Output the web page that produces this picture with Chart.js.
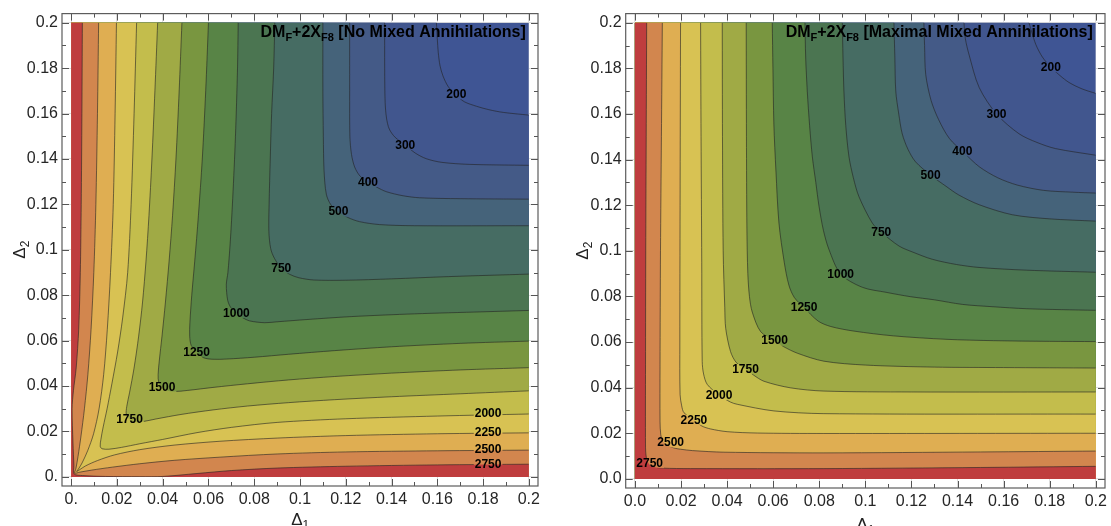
<!DOCTYPE html>
<html>
<head>
<meta charset="utf-8">
<script src="https://cdn.jsdelivr.net/npm/chart.js@4.4.1/dist/chart.umd.min.js"></script>
<style>
  body { margin: 0; background: #fff; }
  canvas { position: absolute; top: 0; }
</style>
</head>
<body>
<canvas id="noMix" width="555" height="526" style="left:0"></canvas>
<canvas id="maxMix" width="556" height="526" style="left:555px"></canvas>
<script>
// contour levels, lowest first, and the fill colour of each band (band 0 = below 200)
const levels = [200, 300, 400, 500, 750, 1000, 1250, 1500, 1750, 2000, 2250, 2500, 2750];
const bandColors = ["#3f5594", "#41568e", "#445a87", "#45637a", "#466c63", "#4b7551", "#588446",
  "#799640", "#a0aa45", "#c3bd4c", "#d8c253", "#dfae52", "#d2864e", "#bf3d3e"];

const tickValues = [0, 0.02, 0.04, 0.06, 0.08, 0.1, 0.12, 0.14, 0.16, 0.18, 0.2];
const noMixTickLabels = ["0.", "0.02", "0.04", "0.06", "0.08", "0.1", "0.12", "0.14", "0.16", "0.18", "0.2"];
const maxMixTickLabels = ["0.0", "0.02", "0.04", "0.06", "0.08", "0.1", "0.12", "0.14", "0.16", "0.18", "0.2"];

// left panel: no mixed annihilations, contour lines as [Δ1, Δ2]
const noMix200 = [[0.1596,0.2],[0.16,0.193],[0.1604,0.187],[0.1612,0.181],[0.1625,0.1765],[0.1648,0.1718],[0.168,0.1683],[0.1718,0.1652],[0.1771,0.1632],[0.1825,0.1617],[0.1888,0.1605],[0.2,0.1593]];
const noMix300 = [[0.137,0.2],[0.137,0.18],[0.1372,0.165],[0.1378,0.158],[0.139,0.1532],[0.1415,0.1496],[0.146,0.1461],[0.1505,0.1425],[0.1552,0.1401],[0.162,0.1385],[0.1742,0.1376],[0.2,0.1372]];
const noMix400 = [[0.1217,0.2],[0.1217,0.17],[0.1218,0.15],[0.1225,0.142],[0.1239,0.1364],[0.1262,0.1325],[0.1297,0.1298],[0.1335,0.1276],[0.1377,0.1256],[0.145,0.1238],[0.1523,0.1229],[0.17,0.1225],[0.2,0.1223]];
const noMix500 = [[0.11,0.2],[0.11,0.17],[0.1102,0.15],[0.1105,0.135],[0.1115,0.1245],[0.1135,0.1198],[0.1168,0.1168],[0.121,0.1142],[0.126,0.1124],[0.1348,0.1111],[0.15,0.1106],[0.2,0.1106]];
const noMix750 = [[0.089,0.2],[0.0885,0.18],[0.0876,0.16],[0.087,0.14],[0.0865,0.12],[0.0864,0.108],[0.0872,0.1005],[0.0888,0.0963],[0.0918,0.0919],[0.0955,0.0892],[0.0995,0.0877],[0.106,0.0867],[0.12,0.0866],[0.14,0.0872],[0.165,0.0882],[0.2,0.0893]];
const noMix1000 = [[0.073,0.2],[0.0727,0.18],[0.0718,0.15],[0.0706,0.1226],[0.0695,0.103],[0.0685,0.09],[0.0678,0.0846],[0.0684,0.0778],[0.0698,0.0745],[0.0722,0.0722],[0.0748,0.0702],[0.078,0.0687],[0.0846,0.0679],[0.09,0.0683],[0.103,0.0693],[0.1226,0.0706],[0.15,0.0718],[0.18,0.0727],[0.2,0.0733]];
const noMix1250 = [[0.06,0.2],[0.0588,0.17],[0.0573,0.14],[0.0556,0.115],[0.054,0.095],[0.0527,0.08],[0.0519,0.068],[0.0518,0.062],[0.0525,0.0578],[0.055,0.0551],[0.0578,0.0525],[0.062,0.0518],[0.068,0.0519],[0.08,0.0527],[0.095,0.054],[0.115,0.0556],[0.14,0.0573],[0.17,0.0588],[0.2,0.0598]];
const noMix1500 = [[0.0484,0.2],[0.0472,0.17],[0.0458,0.14],[0.0443,0.115],[0.0428,0.095],[0.0412,0.077],[0.0397,0.062],[0.0385,0.051],[0.038,0.045],[0.0383,0.0415],[0.0397,0.0395],[0.0415,0.0382],[0.045,0.0376],[0.051,0.0381],[0.062,0.0394],[0.077,0.041],[0.095,0.0427],[0.115,0.0442],[0.14,0.0457],[0.17,0.0471],[0.2,0.0481]];
const noMix1750 = [[0.0378,0.2],[0.0366,0.17],[0.0353,0.14],[0.034,0.115],[0.0327,0.095],[0.0312,0.077],[0.0295,0.062],[0.0275,0.048],[0.0255,0.037],[0.0243,0.031],[0.0241,0.0275],[0.0255,0.0254],[0.0275,0.0241],[0.031,0.0243],[0.037,0.0255],[0.048,0.0275],[0.062,0.0295],[0.077,0.0312],[0.095,0.0327],[0.115,0.034],[0.14,0.0353],[0.17,0.0366],[0.2,0.0379]];
const noMix2000 = [[0.0286,0.2],[0.0275,0.16],[0.0262,0.12],[0.0247,0.09],[0.0225,0.07],[0.0203,0.055],[0.0178,0.041],[0.0157,0.03],[0.014,0.022],[0.013,0.0165],[0.0127,0.0135],[0.0135,0.0124],[0.0165,0.0122],[0.022,0.013],[0.03,0.0146],[0.04,0.0165],[0.055,0.0195],[0.07,0.0218],[0.09,0.024],[0.12,0.0256],[0.16,0.0268],[0.2,0.0277]];
const noMix2250 = [[0.0198,0.2],[0.0192,0.16],[0.0184,0.12],[0.0172,0.09],[0.0158,0.065],[0.0142,0.045],[0.0122,0.03],[0.0098,0.019],[0.0072,0.0115],[0.0048,0.0062],[0.0032,0.0035],[0.0024,0.0024],[0.0036,0.0031],[0.0062,0.0048],[0.0115,0.0072],[0.019,0.0097],[0.03,0.012],[0.045,0.014],[0.065,0.0157],[0.09,0.0171],[0.12,0.0182],[0.16,0.019],[0.2,0.0194]];
const noMix2500 = [[0.012,0.2],[0.0115,0.16],[0.0108,0.12],[0.0099,0.09],[0.0087,0.065],[0.0073,0.045],[0.0058,0.03],[0.0043,0.018],[0.003,0.009],[0.0021,0.0038],[0.0016,0.0017],[0.0038,0.0021],[0.009,0.003],[0.018,0.0043],[0.03,0.0058],[0.045,0.0073],[0.065,0.0087],[0.09,0.0101],[0.12,0.011],[0.16,0.0115],[0.2,0.0118]];
const noMix2750 = [[0.0049,0.2],[0.0047,0.16],[0.0044,0.12],[0.004,0.09],[0.0033,0.065],[0.0022,0.048],[0.001,0.038],[0.0004,0.03],[0.0008,0.015],[0.0012,0.005],[0.0013,0.0013],[0.005,0.0006],[0.015,0.0002],[0.03,0.0001],[0.04,0.0002],[0.055,0.0015],[0.07,0.0028],[0.09,0.0039],[0.12,0.0047],[0.16,0.0053],[0.2,0.0056]];
const noMixLabelAt = [[0.1683,0.1685],[0.146,0.1462],[0.1297,0.1298],[0.1168,0.1168],[0.0918,0.0919],[0.0722,0.0722],[0.0548,0.0551],[0.0397,0.0394],[0.0255,0.0253],[0.1822,0.0282],[0.1822,0.0199],[0.1822,0.0121],[0.1822,0.0056]];

// right panel: maximal mixed annihilations
const maxMix200 = [[0.171,0.2],[0.1722,0.196],[0.174,0.1904],[0.1768,0.185],[0.1805,0.1805],[0.1845,0.1768],[0.1884,0.1738],[0.194,0.171],[0.2,0.169]];
const maxMix300 = [[0.1428,0.2],[0.1434,0.193],[0.145,0.186],[0.1494,0.1716],[0.1569,0.16],[0.1667,0.1513],[0.1745,0.1475],[0.1826,0.1448],[0.2,0.1419]];
const maxMix400 = [[0.1254,0.2],[0.1257,0.19],[0.1262,0.1773],[0.1285,0.166],[0.1318,0.1575],[0.1365,0.1492],[0.1429,0.1429],[0.1495,0.1368],[0.1575,0.132],[0.166,0.1288],[0.1773,0.1265],[0.19,0.1257],[0.2,0.1253]];
const maxMix500 = [[0.1124,0.2],[0.1128,0.185],[0.1132,0.17],[0.1145,0.16],[0.116,0.1513],[0.1185,0.1445],[0.1218,0.139],[0.1283,0.1332],[0.135,0.1283],[0.1405,0.1245],[0.1494,0.1202],[0.1638,0.1158],[0.18,0.114],[0.2,0.113]];
const maxMix750 = [[0.09,0.2],[0.0903,0.185],[0.0907,0.17],[0.0915,0.155],[0.0929,0.1412],[0.0948,0.132],[0.0972,0.1238],[0.103,0.1122],[0.1069,0.1082],[0.1146,0.1021],[0.1204,0.0995],[0.129,0.0963],[0.1395,0.094],[0.1493,0.0927],[0.17,0.0915],[0.2,0.0906]];
const maxMix1000 = [[0.0738,0.2],[0.0741,0.185],[0.0748,0.17],[0.0758,0.155],[0.077,0.1412],[0.0785,0.13],[0.0799,0.1195],[0.0818,0.109],[0.0842,0.1006],[0.0893,0.0898],[0.0987,0.084],[0.109,0.0818],[0.1195,0.0799],[0.13,0.0785],[0.1421,0.0765],[0.155,0.0755],[0.17,0.0746],[0.185,0.0742],[0.2,0.0739]];
const maxMix1250 = [[0.0596,0.2],[0.0599,0.18],[0.0603,0.1556],[0.0612,0.135],[0.0625,0.1122],[0.0648,0.095],[0.0668,0.085],[0.0692,0.0795],[0.0734,0.0751],[0.0795,0.0692],[0.085,0.0668],[0.095,0.0648],[0.1122,0.0627],[0.135,0.0612],[0.1556,0.0606],[0.18,0.0603],[0.2,0.0602]];
const maxMix1500 = [[0.0483,0.2],[0.0484,0.15],[0.0486,0.11],[0.049,0.09],[0.0497,0.08],[0.0509,0.0732],[0.0546,0.0645],[0.0606,0.0606],[0.0645,0.058],[0.0705,0.0551],[0.082,0.0516],[0.1,0.0499],[0.13,0.049],[0.16,0.0488],[0.2,0.0486]];
const maxMix1750 = [[0.0379,0.2],[0.038,0.15],[0.0383,0.1],[0.039,0.075],[0.0394,0.066],[0.0415,0.0558],[0.044,0.051],[0.048,0.0482],[0.0515,0.0455],[0.056,0.0428],[0.0676,0.0399],[0.082,0.0385],[0.12,0.0381],[0.2,0.0381]];
const maxMix2000 = [[0.0285,0.2],[0.0287,0.15],[0.029,0.095],[0.0292,0.0515],[0.0298,0.046],[0.0314,0.0414],[0.0365,0.0368],[0.0414,0.0337],[0.0444,0.0327],[0.0603,0.0298],[0.082,0.0286],[0.2,0.0284]];
const maxMix2250 = [[0.0198,0.2],[0.0196,0.12],[0.0195,0.06],[0.0196,0.037],[0.0203,0.032],[0.0213,0.029],[0.0256,0.0259],[0.029,0.0232],[0.0328,0.0219],[0.04,0.0207],[0.0531,0.0201],[0.082,0.0199],[0.2,0.02]];
const maxMix2500 = [[0.0119,0.2],[0.0115,0.15],[0.0111,0.1],[0.0109,0.05],[0.0109,0.025],[0.0112,0.0195],[0.0119,0.0168],[0.0132,0.0152],[0.0148,0.0143],[0.0175,0.0134],[0.0198,0.013],[0.025,0.0124],[0.0386,0.0117],[0.082,0.0114],[0.15,0.0118],[0.2,0.0122]];
const maxMix2750 = [[0.0051,0.2],[0.0049,0.15],[0.0047,0.1],[0.0046,0.05],[0.0046,0.0139],[0.0048,0.0105],[0.0053,0.0081],[0.0064,0.0062],[0.0082,0.0052],[0.012,0.0047],[0.0242,0.0045],[0.082,0.0045],[0.15,0.005],[0.2,0.0055]];
const maxMixLabelAt = [[0.1805,0.1805],[0.1569,0.16],[0.1421,0.1436],[0.1283,0.1332],[0.1069,0.1082],[0.0893,0.0898],[0.0734,0.0751],[0.0606,0.0606],[0.048,0.0482],[0.0365,0.0368],[0.0256,0.0259],[0.0155,0.0159],[0.0064,0.0069]];

const noMixContours = [noMix200, noMix300, noMix400, noMix500, noMix750, noMix1000, noMix1250, noMix1500, noMix1750, noMix2000, noMix2250, noMix2500, noMix2750];
const maxMixContours = [maxMix200, maxMix300, maxMix400, maxMix500, maxMix750, maxMix1000, maxMix1250, maxMix1500, maxMix1750, maxMix2000, maxMix2250, maxMix2500, maxMix2750];

Chart.defaults.font.family = '"Liberation Sans", Arial, sans-serif';
const lo = -0.004, hi = 0.204;   // frame range (Mathematica style padding)
const T = 0.3;

const toXY = (pts) => pts.map((p) => ({ x: p[0], y: p[1] }));

// each band is painted as the region between a contour and the left/bottom edges
const buildDatasets = (contours) => {
  const sets = [{
    data: toXY([[0, 0], [0.2, 0], [0.2, 0.2], [0, 0.2]]),
    backgroundColor: bandColors[0], borderColor: "rgba(0,0,0,0)", fill: "shape", tension: 0, order: 100,
  }];
  contours.forEach((pts, i) => {
    const a = pts[0], b = pts[pts.length - 1];
    const ring = [[a[0], hi], [a[0], hi]].concat(pts,
      [[hi, b[1]], [hi, b[1]], [hi, lo], [hi, lo], [lo, lo], [lo, lo], [lo, hi], [lo, hi]]);
    sets.push({
      data: toXY(ring), backgroundColor: bandColors[i + 1], borderColor: "rgba(0,0,0,0)",
      fill: "shape", tension: T, order: 99 - i,
    });
  });
  contours.forEach((pts) => {
    sets.push({
      data: toXY(pts), borderColor: "rgba(35,35,35,0.6)", borderWidth: 1,
      fill: false, tension: T, order: 1, contour: true,
    });
  });
  return sets;
};

const drawParts = (ctx, parts, xRight, yBase, size, subSize, weight) => {
  const fontOf = (p) => `${weight} ${p.sub ? subSize : size}px "Liberation Sans", Arial, sans-serif`;
  let total = 0;
  parts.forEach((p) => { ctx.font = fontOf(p); total += ctx.measureText(p.t).width; });
  let x = xRight - total;
  ctx.textAlign = "left";
  ctx.textBaseline = "alphabetic";
  parts.forEach((p) => {
    ctx.font = fontOf(p);
    ctx.fillText(p.t, x, yBase + (p.sub ? size * 0.25 : 0));
    x += ctx.measureText(p.t).width;
  });
  return total;
};

const decor = (opts) => ({
  id: "decor",
  beforeDatasetsDraw(chart) {
    const { x, y } = chart.scales;
    const ctx = chart.ctx;
    ctx.save();
    ctx.beginPath();
    ctx.rect(x.getPixelForValue(0), y.getPixelForValue(0.2),
      x.getPixelForValue(0.2) - x.getPixelForValue(0), y.getPixelForValue(0) - y.getPixelForValue(0.2));
    ctx.clip();
  },
  beforeDatasetDraw(chart, args) {
    if (!chart.data.datasets[args.index].contour) return;
    const { x, y } = chart.scales;
    const ctx = chart.ctx;
    ctx.save();
    ctx.beginPath();
    ctx.rect(x.left - 5, y.top - 5, x.width + 10, y.height + 10);
    ctx.font = 'bold 12px "Liberation Sans", Arial, sans-serif';
    opts.labelAt.forEach((p, i) => {
      const w = ctx.measureText(String(levels[i])).width + 2;
      ctx.rect(x.getPixelForValue(p[0]) - w / 2, y.getPixelForValue(p[1]) - 5, w, 10);
    });
    ctx.clip("evenodd");
  },
  afterDatasetDraw(chart, args) {
    if (chart.data.datasets[args.index].contour) chart.ctx.restore();
  },
  afterDatasetsDraw(chart) {
    const { x, y } = chart.scales;
    const ctx = chart.ctx;
    ctx.restore();
    ctx.save();
    ctx.font = 'bold 12px "Liberation Sans", Arial, sans-serif';
    ctx.fillStyle = "#000";
    ctx.textAlign = "center";
    ctx.textBaseline = "middle";
    opts.labelAt.forEach((p, i) => {
      ctx.fillText(String(levels[i]), x.getPixelForValue(p[0]), y.getPixelForValue(p[1]) + 0.5);
    });
    ctx.restore();
  },
  afterDraw(chart) {
    const { x, y } = chart.scales;
    const a = chart.chartArea;
    const ctx = chart.ctx;
    ctx.save();
    // inward frame ticks
    ctx.strokeStyle = "#555";
    ctx.lineWidth = 1;
    const minor = tickValues.slice(1).map((v, i) => (v + tickValues[i]) / 2);
    const tick = (v, len) => {
      const px = Math.round(x.getPixelForValue(v)) + 0.5;
      const py = Math.round(y.getPixelForValue(v)) + 0.5;
      ctx.beginPath();
      ctx.moveTo(px, a.bottom); ctx.lineTo(px, a.bottom - len);
      ctx.moveTo(px, a.top); ctx.lineTo(px, a.top + len);
      ctx.moveTo(a.left, py); ctx.lineTo(a.left + len, py);
      ctx.moveTo(a.right, py); ctx.lineTo(a.right - len, py);
      ctx.stroke();
    };
    tickValues.forEach((v) => tick(v, 7));
    minor.forEach((v) => tick(v, 4));
    // frame
    ctx.strokeStyle = "#5c5c5c";
    ctx.lineWidth = 1.2;
    ctx.strokeRect(a.left, a.top, a.right - a.left, a.bottom - a.top);
    // panel title inside the plot
    ctx.fillStyle = "#000";
    drawParts(ctx, opts.title, x.getPixelForValue(0.2) - 3, y.getPixelForValue(0.2) + 14.5, 16, 11, "bold");
    // axis titles
    ctx.fillStyle = "#222";
    const dx = [{ t: "\u0394" }, { t: "1", sub: true }];
    const wx = (() => { ctx.font = '17px "Liberation Sans"'; return ctx.measureText("\u0394").width; })() + 7;
    drawParts(ctx, dx, x.getPixelForValue(0.1) + wx / 2, a.bottom + opts.xTitleDy, 17, 12, "normal");
    ctx.save();
    ctx.translate(a.left - 37.5, y.getPixelForValue(0.1));
    ctx.rotate(-Math.PI / 2);
    drawParts(ctx, [{ t: "\u0394" }, { t: "2", sub: true }], wx / 2, 0, 17, 12, "normal");
    ctx.restore();
    ctx.restore();
  },
});

const makeChart = (id, contours, tickLabels, labelAt, title, padding, xTitleDy) => {
  const axis = (fit) => ({
    type: "linear", min: lo, max: hi,
    afterBuildTicks: (s) => { s.ticks = tickValues.map((v) => ({ value: v })); },
    afterFit: fit,
    grid: { color: "#dddddd", lineWidth: 1, drawTicks: false },
    border: { display: false },
    ticks: {
      autoSkip: false, maxRotation: 0, padding: 4, color: "#262626",
      font: { size: 16 },
      callback: (v, i) => tickLabels[i],
    },
  });
  return new Chart(document.getElementById(id), {
    type: "line",
    data: { datasets: buildDatasets(contours) },
    options: {
      responsive: false, animation: false, events: [],
      layout: { padding: padding },
      elements: { point: { radius: 0, hitRadius: 0 } },
      plugins: { legend: { display: false }, tooltip: { enabled: false } },
      scales: {
        x: axis((s) => { s.height = 30; }),
        y: axis((s) => { s.width = 50; }),
      },
    },
    plugins: [decor({ labelAt, title, xTitleDy })],
  });
};

makeChart("noMix", noMixContours, noMixTickLabels, noMixLabelAt,
  [{ t: "DM" }, { t: "F", sub: true }, { t: "+2X" }, { t: "F8", sub: true }, { t: " [No Mixed Annihilations]" }],
  { left: 12, top: 10, right: 17, bottom: 10 }, 38.5);

makeChart("maxMix", maxMixContours, maxMixTickLabels, maxMixLabelAt,
  [{ t: "DM" }, { t: "F", sub: true }, { t: "+2X" }, { t: "F8", sub: true }, { t: " [Maximal Mixed Annihilations]" }],
  { left: 20.7, top: 7.3, right: 5, bottom: 8 }, 41.5);
</script>
</body>
</html>
